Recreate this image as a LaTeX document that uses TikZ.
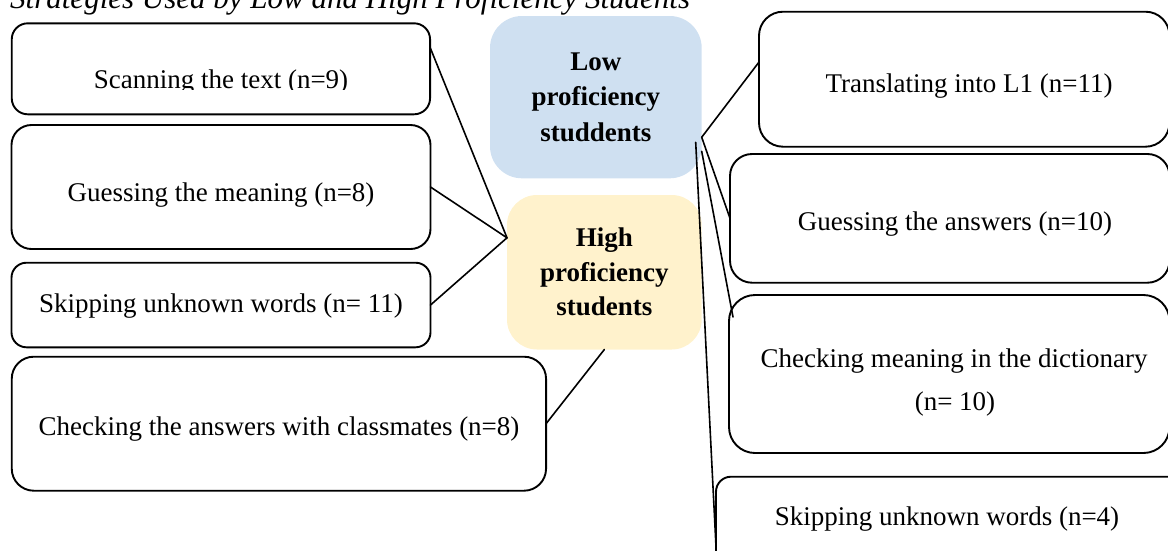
\documentclass[tikz,border=0pt]{standalone}
\usepackage{fontspec}
\setmainfont{Liberation Serif}
\usetikzlibrary{calc}
\definecolor{lowblue}{RGB}{207,224,241}
\definecolor{highyellow}{RGB}{255,242,204}
\tikzset{
  box/.style={draw=black, line width=1.9pt, fill=white, inner sep=0pt, outer sep=0pt},
  hubbox/.style={inner sep=0pt, outer sep=0pt, align=center},
  lbl/.style={anchor=base, inner sep=0pt, outer sep=0pt, font=\fontsize{27}{32}\selectfont},
  conn/.style={line width=1.6pt, line cap=round}
}
\begin{document}
\begin{tikzpicture}[x=1pt,y=-1pt]
\useasboundingbox (0,0) rectangle (1168,550);
\clip (0,0) rectangle (1168,550);

% title (cut at the top)
\node[anchor=base west, inner sep=0pt, font=\itshape\fontsize{31}{36}\selectfont] (title) at (10,8) {Strategies Used by Low and High Proficiency Students};

% hubs
\node[hubbox, fill=lowblue, rounded corners=32pt, minimum width=211.7, minimum height=162.3,
      font=\bfseries\fontsize{27}{35.5}\selectfont] (low) at (595.85,97.15) {Low\\proficiency\\studdents};
\node[hubbox, fill=highyellow, rounded corners=30pt, minimum width=194.7, minimum height=154.5,
      font=\bfseries\fontsize{27}{34.5}\selectfont] (high) at (604.35,272.25) {High\\proficiency\\students};

% left boxes
\node[box, rounded corners=16pt, minimum width=418.3, minimum height=91] (scan) at (220.9,68.8) {};
\node[box, rounded corners=20pt, minimum width=419, minimum height=124] (gm) at (221,187) {};
\node[box, rounded corners=15pt, minimum width=419, minimum height=84.6] (sk) at (221,305) {};
\node[box, rounded corners=22pt, minimum width=534.3, minimum height=134] (cc) at (278.9,423.7) {};

% right boxes
\node[box, rounded corners=24pt, minimum width=410.5, minimum height=135] (tr) at (964.25,79.2) {};
\node[box, rounded corners=22pt, minimum width=439.5, minimum height=128.7] (ga) at (949.75,218.35) {};
\node[box, rounded corners=26pt, minimum width=440.5, minimum height=158] (cm) at (949.25,374) {};
\node[box, rounded corners=15pt, minimum width=474, minimum height=98.3] (skf) at (953,525.85) {};

% labels
\begin{scope}
  \clip (0,0) rectangle (1168,89.5);
  \node[lbl] (tscan) at (221,88) {Scanning the text (n=9)};
\end{scope}
\node[lbl] (tgm) at (221,201) {Guessing the meaning (n=8)};
\node[lbl] (tsk) at (221,312) {Skipping unknown words (n= 11)};
\node[lbl] (tcc) at (279,435) {Checking the answers with classmates (n=8)};
\node[lbl] (ttr) at (969,92) {Translating into L1 (n=11)};
\node[lbl] (tga) at (955,230) {Guessing the answers (n=10)};
\node[lbl] (tcma) at (954,367) {Checking meaning in the dictionary};
\node[lbl] (tcmb) at (955,410) {(n= 10)};
\node[lbl] (tskf) at (947,525) {Skipping unknown words (n=4)};

% connectors, high proficiency
\coordinate (highHub) at ($(high.north west)!0.277!(high.south west)$);
\draw[conn] ($(scan.north east)!0.264!(scan.south east)$) -- (highHub);
\draw[conn] (gm.east) -- (highHub);
\draw[conn] (sk.east) -- (highHub);
\draw[conn] (high.south) -- (cc.east);

% connectors, low proficiency
\coordinate (lowHub) at ($(low.north east)!0.747!(low.south east)$);
\coordinate (lowA) at ($(low.south east)+(-6,-36)$);
\coordinate (lowB) at ($(low.south east)+(0,-27)$);
\draw[conn] (lowHub) -- ($(tr.north west)!0.373!(tr.south west)$);
\draw[conn] (lowHub) -- (ga.west);
\draw[conn] (lowB) -- ($(cm.north west)+(4,22)$);
\draw[conn] (lowA) -- ($(skf.north west)+(0,70)$);
\end{tikzpicture}
\end{document}
